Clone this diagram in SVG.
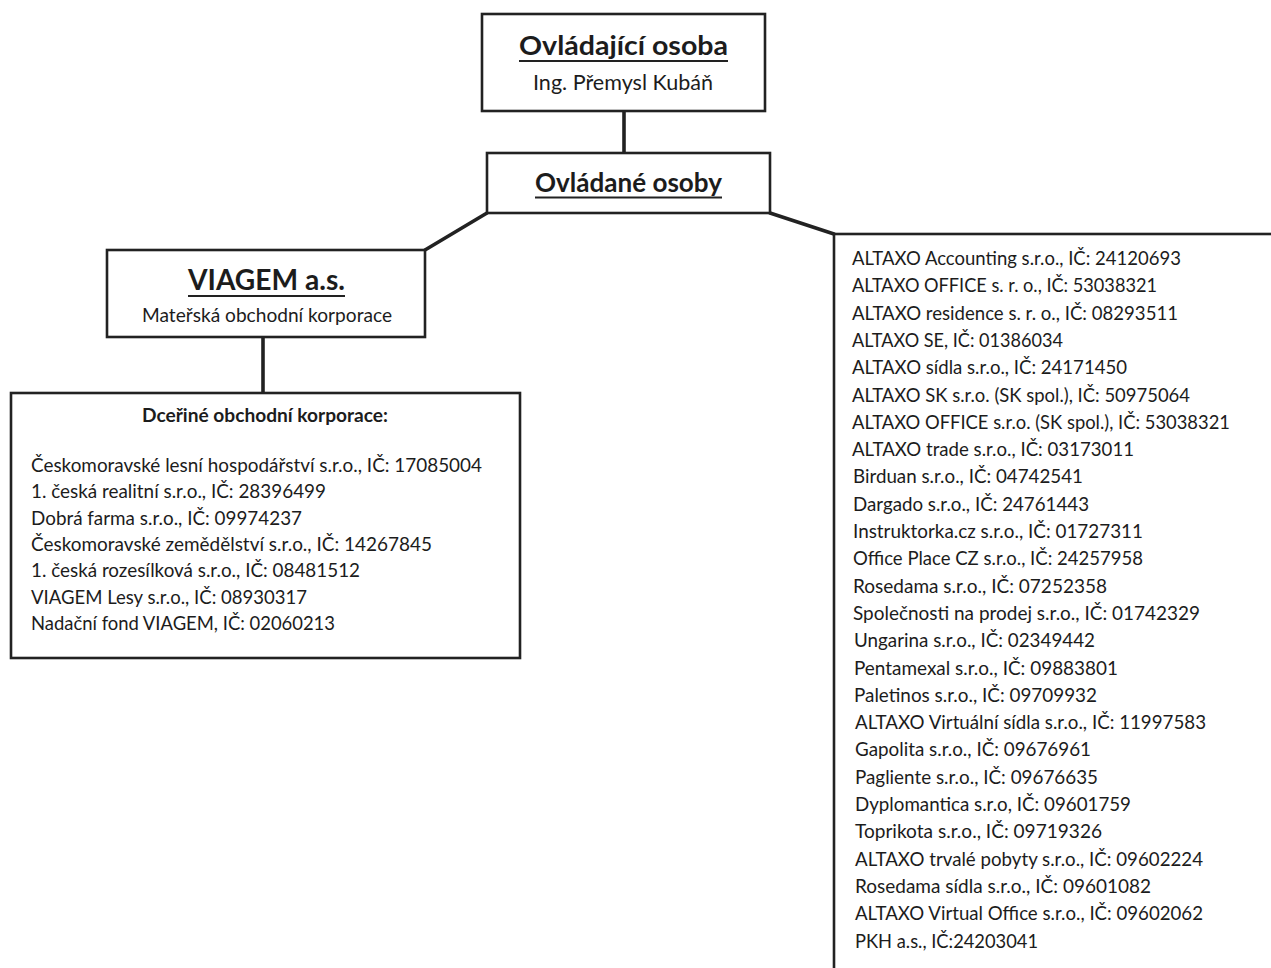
<svg xmlns="http://www.w3.org/2000/svg" width="1271" height="968" viewBox="0 0 1271 968">
<style>
.box{fill:#fff;stroke:#222;stroke-width:2.6}
.con{stroke:#222;stroke-width:3.6;fill:none;stroke-linecap:round}
.ul{stroke:#222;stroke-width:2}
text{font-family:Lato,"Open Sans","Liberation Sans",sans-serif;fill:#1c1c1c}
.h{font-weight:bold}
.t{font-size:19.8px}
</style>
<rect width="1271" height="968" fill="#fff"/>
<g id="connectors">
<line class="con" x1="624" y1="111" x2="624" y2="153"/>
<line class="con" x1="487" y1="213" x2="425" y2="250"/>
<line class="con" x1="770" y1="213" x2="834" y2="234"/>
<line class="con" x1="263" y1="337" x2="263" y2="393"/>
</g>
<g id="ovladajici">
<rect class="box" x="482" y="14" width="283" height="97"/>
<text class="h" x="519" y="55" font-size="27" textLength="209" lengthAdjust="spacingAndGlyphs">Ovládající osoba</text>
<line class="ul" x1="519" y1="61" x2="728" y2="61"/>
<text x="533" y="90" font-size="21" textLength="180" lengthAdjust="spacingAndGlyphs">Ing. Přemysl Kubáň</text>
</g>
<g id="ovladane">
<rect class="box" x="487" y="153" width="283" height="60"/>
<text class="h" x="535" y="191.5" font-size="27" textLength="187" lengthAdjust="spacingAndGlyphs">Ovládané osoby</text>
<line class="ul" x1="535" y1="197.5" x2="722" y2="197.5"/>
</g>
<g id="viagem">
<rect class="box" x="107" y="250" width="318" height="87"/>
<text class="h" x="188" y="290" font-size="29" textLength="157" lengthAdjust="spacingAndGlyphs">VIAGEM a.s.</text>
<line class="ul" x1="188" y1="296" x2="345" y2="296"/>
<text x="142" y="322" font-size="20" textLength="250" lengthAdjust="spacingAndGlyphs">Mateřská obchodní korporace</text>
</g>
<g id="dcerine">
<rect class="box" x="11" y="393" width="509" height="265"/>
<text class="h" x="142" y="422" font-size="19.5" textLength="246" lengthAdjust="spacingAndGlyphs">Dceřiné obchodní korporace:</text>
<g class="t">
<text x="31" y="472" textLength="451" lengthAdjust="spacingAndGlyphs">Českomoravské lesní hospodářství s.r.o., IČ: 17085004</text>
<text x="31" y="498.3" textLength="295" lengthAdjust="spacingAndGlyphs">1. česká realitní s.r.o., IČ: 28396499</text>
<text x="31" y="524.6" textLength="271" lengthAdjust="spacingAndGlyphs">Dobrá farma s.r.o., IČ: 09974237</text>
<text x="31" y="550.9" textLength="401" lengthAdjust="spacingAndGlyphs">Českomoravské zemědělství s.r.o., IČ: 14267845</text>
<text x="31" y="577.2" textLength="329" lengthAdjust="spacingAndGlyphs">1. česká rozesílková s.r.o., IČ: 08481512</text>
<text x="31" y="603.5" textLength="276" lengthAdjust="spacingAndGlyphs">VIAGEM Lesy s.r.o., IČ: 08930317</text>
<text x="31" y="629.8" textLength="304" lengthAdjust="spacingAndGlyphs">Nadační fond VIAGEM, IČ: 02060213</text>
</g>
</g>
<g id="ovladane-seznam">
<rect class="box" x="834" y="234" width="500" height="800"/>
<g class="t">
<text x="852" y="265" textLength="329" lengthAdjust="spacingAndGlyphs">ALTAXO Accounting s.r.o., IČ: 24120693</text>
<text x="852" y="292.3" textLength="305" lengthAdjust="spacingAndGlyphs">ALTAXO OFFICE s. r. o., IČ: 53038321</text>
<text x="852" y="319.6" textLength="326" lengthAdjust="spacingAndGlyphs">ALTAXO residence s. r. o., IČ: 08293511</text>
<text x="852" y="346.9" textLength="211" lengthAdjust="spacingAndGlyphs">ALTAXO SE, IČ: 01386034</text>
<text x="852" y="374.2" textLength="275" lengthAdjust="spacingAndGlyphs">ALTAXO sídla s.r.o., IČ: 24171450</text>
<text x="852" y="401.5" textLength="338" lengthAdjust="spacingAndGlyphs">ALTAXO SK s.r.o. (SK spol.), IČ: 50975064</text>
<text x="852" y="428.8" textLength="378" lengthAdjust="spacingAndGlyphs">ALTAXO OFFICE s.r.o. (SK spol.), IČ: 53038321</text>
<text x="852" y="456.1" textLength="282" lengthAdjust="spacingAndGlyphs">ALTAXO trade s.r.o., IČ: 03173011</text>
<text x="853" y="483.4" textLength="230" lengthAdjust="spacingAndGlyphs">Birduan s.r.o., IČ: 04742541</text>
<text x="853" y="510.7" textLength="236" lengthAdjust="spacingAndGlyphs">Dargado s.r.o., IČ: 24761443</text>
<text x="853" y="538" textLength="290" lengthAdjust="spacingAndGlyphs">Instruktorka.cz s.r.o., IČ: 01727311</text>
<text x="853" y="565.3" textLength="290" lengthAdjust="spacingAndGlyphs">Office Place CZ s.r.o., IČ: 24257958</text>
<text x="853" y="592.6" textLength="254" lengthAdjust="spacingAndGlyphs">Rosedama s.r.o., IČ: 07252358</text>
<text x="853" y="619.9" textLength="347" lengthAdjust="spacingAndGlyphs">Společnosti na prodej s.r.o., IČ: 01742329</text>
<text x="854" y="647.2" textLength="241" lengthAdjust="spacingAndGlyphs">Ungarina s.r.o., IČ: 02349442</text>
<text x="854" y="674.5" textLength="264" lengthAdjust="spacingAndGlyphs">Pentamexal s.r.o., IČ: 09883801</text>
<text x="854" y="701.8" textLength="243" lengthAdjust="spacingAndGlyphs">Paletinos s.r.o., IČ: 09709932</text>
<text x="855" y="729.1" textLength="351" lengthAdjust="spacingAndGlyphs">ALTAXO Virtuální sídla s.r.o., IČ: 11997583</text>
<text x="855" y="756.4" textLength="236" lengthAdjust="spacingAndGlyphs">Gapolita s.r.o., IČ: 09676961</text>
<text x="855" y="783.7" textLength="243" lengthAdjust="spacingAndGlyphs">Pagliente s.r.o., IČ: 09676635</text>
<text x="855" y="811" textLength="276" lengthAdjust="spacingAndGlyphs">Dyplomantica s.r.o, IČ: 09601759</text>
<text x="855" y="838.3" textLength="247" lengthAdjust="spacingAndGlyphs">Toprikota s.r.o., IČ: 09719326</text>
<text x="855" y="865.6" textLength="348" lengthAdjust="spacingAndGlyphs">ALTAXO trvalé pobyty s.r.o., IČ: 09602224</text>
<text x="855" y="892.9" textLength="296" lengthAdjust="spacingAndGlyphs">Rosedama sídla s.r.o., IČ: 09601082</text>
<text x="855" y="920.2" textLength="348" lengthAdjust="spacingAndGlyphs">ALTAXO Virtual Office s.r.o., IČ: 09602062</text>
<text x="855" y="947.5" textLength="183" lengthAdjust="spacingAndGlyphs">PKH a.s., IČ:24203041</text>
</g>
</g>
</svg>
